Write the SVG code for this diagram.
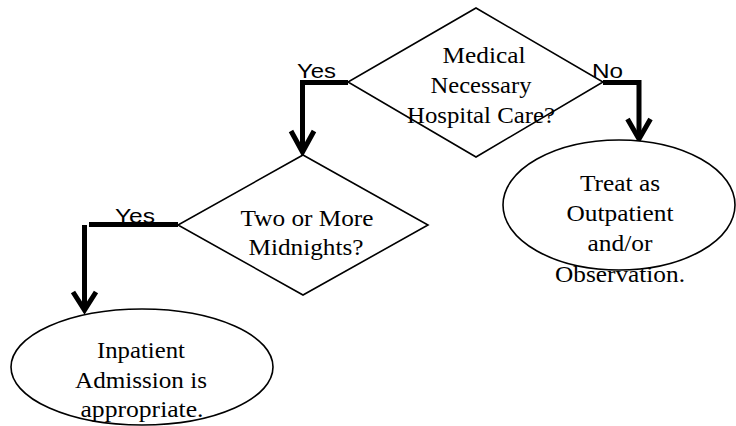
<svg xmlns="http://www.w3.org/2000/svg" width="736" height="426" viewBox="0 0 736 426">
<style>
.shape{fill:#fff;stroke:#000;stroke-width:1.6}
.t{font-family:'Liberation Serif','Times New Roman',Times,serif;font-size:23px;fill:#000;text-anchor:middle}
.lbl{font-family:'Liberation Sans',Arial,sans-serif;font-size:21px;fill:#000}
.wire{fill:none;stroke:#000;stroke-width:5}
.head{fill:none;stroke:#000;stroke-width:5;stroke-linejoin:miter}
</style>
<rect width="736" height="426" fill="#fff"/>
<g id="connectors">
  <polyline class="wire" points="348,82.5 302.5,82.5 302.5,152"/>
  <polyline class="head" points="291,131 302.5,152 314,131"/>
  <polyline class="wire" points="603,82.5 639,82.5 639,139"/>
  <polyline class="head" points="627.5,119 639,139 650.5,119"/>
  <line class="wire" x1="89" y1="224.5" x2="178" y2="224.5"/>
  <line class="wire" x1="84.5" y1="225" x2="84.5" y2="309"/>
  <polyline class="head" points="73,292 84.5,310 96,292"/>
  <text class="lbl" x="297" y="78" textLength="39" lengthAdjust="spacingAndGlyphs">Yes</text>
  <text class="lbl" x="592" y="78" textLength="31" lengthAdjust="spacingAndGlyphs">No</text>
  <text class="lbl" x="115" y="223" textLength="40" lengthAdjust="spacingAndGlyphs">Yes</text>
</g>
<g id="q1">
  <polygon class="shape" points="476,8 603,82 476,157 348,82"/>
  <text class="t" x="484" y="63" textLength="83" lengthAdjust="spacingAndGlyphs">Medical</text>
  <text class="t" x="481" y="93" textLength="101" lengthAdjust="spacingAndGlyphs">Necessary</text>
  <text class="t" x="481" y="123" textLength="148" lengthAdjust="spacingAndGlyphs">Hospital Care?</text>
</g>
<g id="q2">
  <polygon class="shape" points="303,155 428,225 303,295 178,225"/>
  <text class="t" x="307" y="226" textLength="133" lengthAdjust="spacingAndGlyphs">Two or More</text>
  <text class="t" x="306" y="255" textLength="115" lengthAdjust="spacingAndGlyphs">Midnights?</text>
</g>
<g id="outpatient">
  <ellipse class="shape" cx="619" cy="205" rx="116" ry="65"/>
  <text class="t" x="620" y="191" textLength="80" lengthAdjust="spacingAndGlyphs">Treat as</text>
  <text class="t" x="620" y="221" textLength="107" lengthAdjust="spacingAndGlyphs">Outpatient</text>
  <text class="t" x="620" y="251" textLength="65" lengthAdjust="spacingAndGlyphs">and/or</text>
  <text class="t" x="620" y="282" textLength="130" lengthAdjust="spacingAndGlyphs">Observation.</text>
</g>
<g id="inpatient">
  <ellipse class="shape" cx="142" cy="367" rx="131" ry="58"/>
  <text class="t" x="141" y="358" textLength="88" lengthAdjust="spacingAndGlyphs">Inpatient</text>
  <text class="t" x="141" y="388" textLength="132" lengthAdjust="spacingAndGlyphs">Admission is</text>
  <text class="t" x="142" y="417" textLength="123" lengthAdjust="spacingAndGlyphs">appropriate.</text>
</g>
</svg>
